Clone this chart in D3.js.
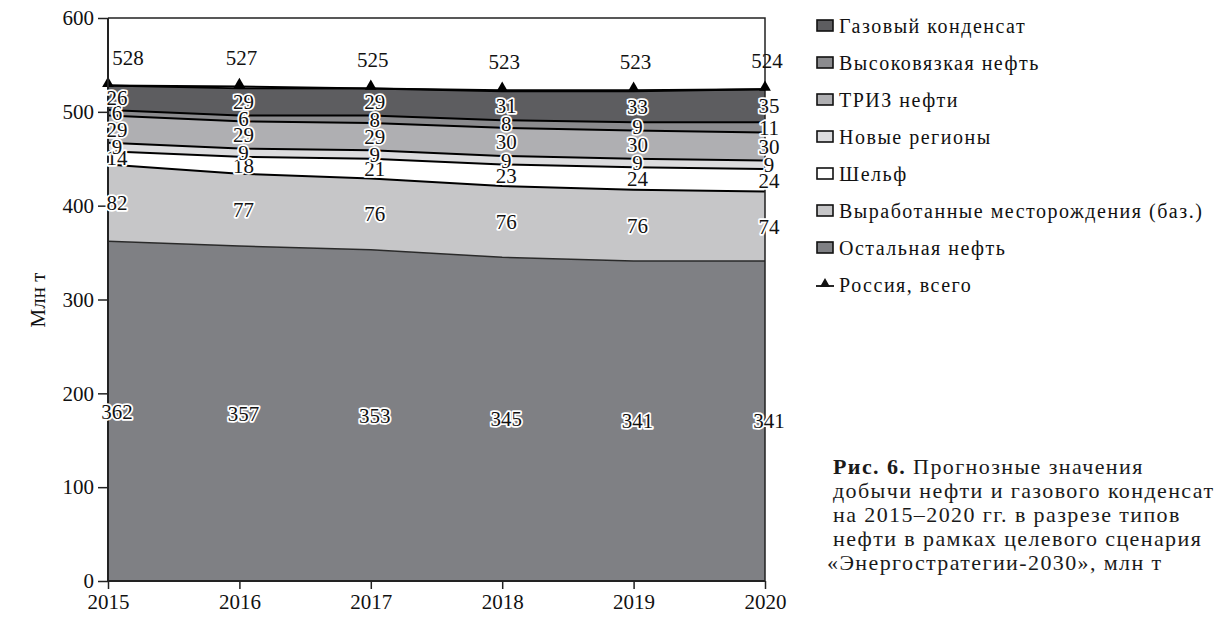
<!DOCTYPE html>
<html><head><meta charset="utf-8">
<script src="https://cdn.jsdelivr.net/npm/d3@7"></script>
<style>
body{margin:0;background:#fff;}
svg{display:block;font-family:"Liberation Serif","Times New Roman",serif;}
</style></head>
<body><svg id="c" width="1217" height="620"></svg>
<script>
const years = [2015, 2016, 2017, 2018, 2019, 2020];
const seriesNames = ["Остальная нефть", "Выработанные месторождения (баз.)", "Шельф", "Новые регионы", "ТРИЗ нефти", "Высоковязкая нефть", "Газовый конденсат"];
const ostalnaya = [362, 357, 353, 345, 341, 341];
const vyrabotannye = [82, 77, 76, 76, 76, 74];
const shelf = [14, 18, 21, 23, 24, 24];
const novye = [9, 9, 9, 9, 9, 9];
const triz = [29, 29, 29, 30, 30, 30];
const vysokovyazkaya = [6, 6, 8, 8, 9, 11];
const kondensat = [26, 29, 29, 31, 33, 35];
const total = [528, 527, 525, 523, 523, 524];
const yTicks = [0, 100, 200, 300, 400, 500, 600];
const legendOrder = ["Газовый конденсат", "Высоковязкая нефть", "ТРИЗ нефти", "Новые регионы", "Шельф", "Выработанные месторождения (баз.)", "Остальная нефть"];
const colors = {
  "Остальная нефть": "#7f8084",
  "Выработанные месторождения (баз.)": "#c6c6c8",
  "Шельф": "#ffffff",
  "Новые регионы": "#dcdcde",
  "ТРИЗ нефти": "#afafb2",
  "Высоковязкая нефть": "#8b8b8e",
  "Газовый конденсат": "#5d5d60"
};
const values = [ostalnaya, vyrabotannye, shelf, novye, triz, vysokovyazkaya, kondensat];
const table = years.map((yr, i) => {
  const o = {year: yr};
  seriesNames.forEach((n, k) => o[n] = values[k][i]);
  return o;
});

(function(){
const svg = d3.select("#c");
const pl = 108, pr = 765, pt = 18, pb = 581;
const x = d3.scaleLinear().domain([2015, 2020]).range([pl, pr]);
const y = d3.scaleLinear().domain([0, 600]).range([pb, pt]);

const stack = d3.stack().keys(seriesNames)(table);
const area = d3.area().x(d => x(d.data.year)).y0(d => y(d[0])).y1(d => y(d[1]));
const topLine = d3.line().x(d => x(d.data.year)).y(d => y(d[1]));

svg.append("g").selectAll("path").data(stack).join("path")
  .attr("d", area).attr("fill", d => colors[d.key]).attr("stroke", "none");
svg.append("g").selectAll("path").data(stack).join("path")
  .attr("d", topLine).attr("fill", "none")
  .attr("stroke", (d, i) => i === 0 ? "#2a2a2a" : "#000")
  .attr("stroke-width", (d, i) => i === 0 ? 1.5 : 2);

// frame (top/right)
svg.append("path").attr("d", `M${pl},${pt}H${pr}V${pb}`)
  .attr("fill", "none").attr("stroke", "#222").attr("stroke-width", 1.5);

// total line + markers
const totLine = d3.line().x((d, i) => x(years[i])).y(d => y(d));
svg.append("path").attr("d", totLine(total)).attr("fill", "none").attr("stroke", "#000").attr("stroke-width", 2);
const tri = d3.symbol().type(d3.symbolTriangle).size(60);
svg.append("g").selectAll("path").data(total).join("path")
  .attr("d", tri).attr("transform", (d, i) => `translate(${x(years[i])},${y(d) - 2})`).attr("fill", "#000");

// axes
const yAxis = svg.append("g").attr("transform", `translate(${pl},0)`)
  .call(d3.axisLeft(y).tickValues(yTicks).tickSize(10).tickPadding(4));
const xAxis = svg.append("g").attr("transform", `translate(0,${pb})`)
  .call(d3.axisBottom(x).tickValues(years).tickFormat(d3.format("d")).tickSize(8).tickPadding(5));
[yAxis, xAxis].forEach(a => {
  a.select(".domain").attr("stroke", "#222").attr("stroke-width", 2);
  a.selectAll(".tick line").attr("stroke", "#222").attr("stroke-width", 1.5);
  a.selectAll("text").attr("font-family", "Liberation Serif").attr("font-size", 21).attr("fill", "#111");
});
xAxis.select(".domain").attr("d", `M${pl},0H${pr}`);
yAxis.select(".domain").attr("d", `M0,${pb}V${pt}`);

svg.append("text").attr("transform", "translate(45,300) rotate(-90)")
  .attr("text-anchor", "middle").attr("font-size", 21).attr("fill", "#111").text("Млн т");

// data labels in bands
const lbl = svg.append("g").attr("font-size", 21).attr("text-anchor", "middle");
stack.forEach(s => {
  s.forEach((d, i) => {
    const cy = y((d[0] + d[1]) / 2);
    lbl.append("text")
      .attr("x", x(d.data.year) + (i === 0 ? 9 : 4))
      .attr("y", cy).attr("dy", "0.35em")
      .attr("fill", "#111").attr("stroke", "#fff").attr("stroke-width", 3.5)
      .attr("paint-order", "stroke").attr("stroke-linejoin", "round")
      .text(d[1] - d[0]);
  });
});
// total labels
svg.append("g").attr("font-size", 21).attr("text-anchor", "middle").selectAll("text").data(total).join("text")
  .attr("x", (d, i) => x(years[i]) + (i === 0 ? 20 : 2))
  .attr("y", d => y(d) - 21).attr("fill", "#111").text(d => d);

// legend
const lg = svg.append("g").attr("font-size", 20).attr("letter-spacing", 1.5).attr("fill", "#111");
legendOrder.forEach((n, i) => {
  const ly = 26 + i * 37;
  lg.append("rect").attr("x", 817).attr("y", ly - 6).attr("width", 16).attr("height", 11)
    .attr("fill", colors[n]).attr("stroke", "#111").attr("stroke-width", 1.6);
  lg.append("text").attr("x", 839).attr("y", ly).attr("dy", "0.35em").text(n);
});
const ry = 26 + 7 * 37;
lg.append("line").attr("x1", 816).attr("x2", 834).attr("y1", ry + 1).attr("y2", ry + 1).attr("stroke", "#111").attr("stroke-width", 1.8);
lg.append("path").attr("d", d3.symbol().type(d3.symbolTriangle).size(45)).attr("transform", `translate(825,${ry - 1})`).attr("fill", "#111");
lg.append("text").attr("x", 839).attr("y", ry).attr("dy", "0.35em").text("Россия, всего");

// caption
const cap = svg.append("text").attr("font-size", 22).attr("letter-spacing", 1.4).attr("fill", "#1a1a1a");
const capLines = ["добычи нефти и газового конденсат", "на 2015–2020 гг. в разрезе типов", "нефти в рамках целевого сценария", "«Энергостратегии-2030», млн т"];
const c0 = cap.append("tspan").attr("x", 833).attr("y", 474);
c0.append("tspan").attr("font-weight", "bold").text("Рис.  6.");
c0.append("tspan").text(" Прогнозные значения");
capLines.forEach((t, i) => cap.append("tspan").attr("x", i === 3 ? 827 : 833).attr("y", 474 + (i + 1) * 24).text(t));
})();
</script></body></html>
